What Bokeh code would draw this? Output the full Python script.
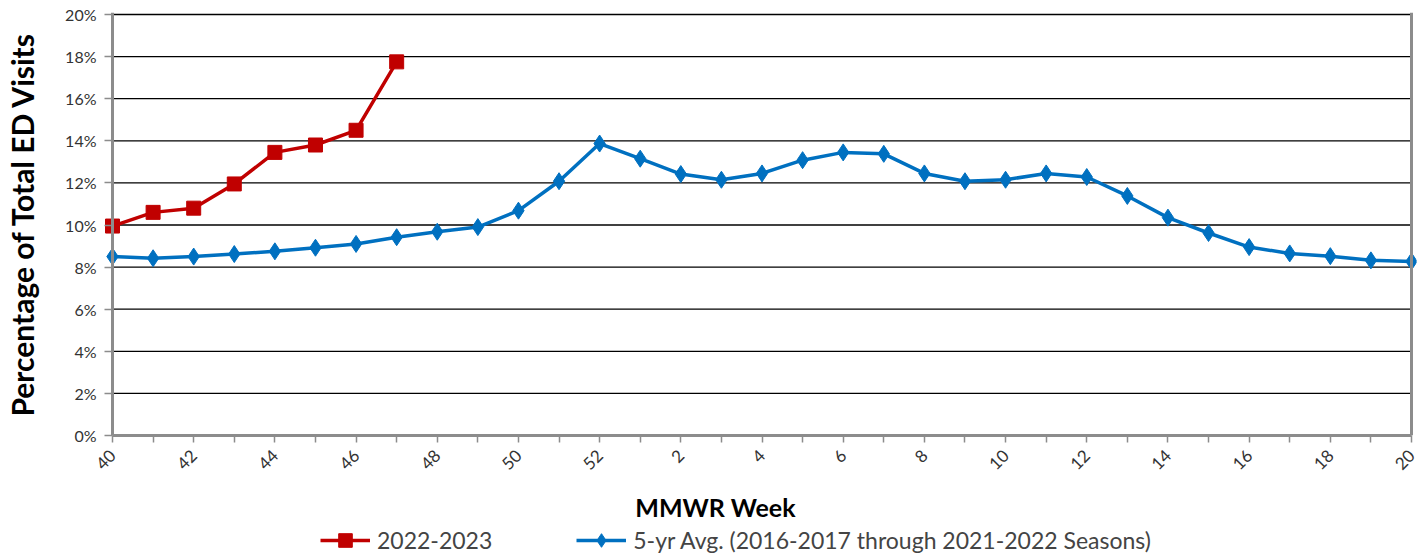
import math
from bokeh.plotting import figure
from bokeh.layouts import column
from bokeh.models import FixedTicker, Legend, LegendItem, Span, ColumnDataSource, Range1d, Label
from bokeh.embed import file_html
from bokeh.resources import INLINE

weeks = [40, 41, 42, 43, 44, 45, 46, 47, 48, 49, 50, 51, 52,
         1, 2, 3, 4, 5, 6, 7, 8, 9, 10, 11, 12, 13, 14, 15, 16, 17, 18, 19, 20]
season_2022 = [9.95, 10.6, 10.8, 11.95, 13.45, 13.8, 14.5, 17.75]
avg_5yr = [8.5, 8.42, 8.5, 8.62, 8.75, 8.92, 9.1, 9.42, 9.68, 9.9, 10.68, 12.08, 13.87,
           13.15, 12.42, 12.15, 12.45, 13.08, 13.45, 13.38, 12.45, 12.08, 12.15, 12.45,
           12.28, 11.38, 10.35, 9.62, 8.95, 8.65, 8.52, 8.32, 8.27]
y_ticks = [0, 2, 4, 6, 8, 10, 12, 14, 16, 18, 20]
series_names = ["2022-2023", "5-yr Avg. (2016-2017 through 2021-2022 Seasons)"]
x_title = "MMWR Week"
y_title = "Percentage of Total ED Visits"

FONT = "Lato"
RED = "#C00000"
BLUE = "#0070C0"
idx = list(range(len(weeks)))
n = len(weeks) - 1

W, H1, H2 = 1420, 483, 74
BL, BR, BT, BB = 104, 4, 12, 48
frame_w = W - BL - BR
frame_h = H1 - BT - BB
pad_l_px, pad_r_px, pad_t_px = 8, 5, 2
px_per_x = (frame_w - pad_l_px - pad_r_px) / n
px_per_y = (frame_h - pad_t_px) / 20.0

p = figure(width=W, height=H1, output_backend="svg", toolbar_location=None,
           x_range=Range1d(-pad_l_px / px_per_x, n + pad_r_px / px_per_x),
           y_range=Range1d(0, 20 + pad_t_px / px_per_y),
           min_border_left=BL, min_border_right=BR, min_border_top=BT, min_border_bottom=BB)
p.outline_line_color = None
p.background_fill_color = "white"
p.xgrid.grid_line_color = None
p.ygrid.grid_line_color = None

# axes
p.xaxis.ticker = FixedTicker(ticks=idx)
p.xaxis.bounds = (0, n)
p.xaxis.major_label_overrides = {i: (str(w) if i % 2 == 0 else "") for i, w in zip(idx, weeks)}
p.xaxis.major_label_orientation = math.pi / 4
p.yaxis.ticker = FixedTicker(ticks=y_ticks)
p.yaxis.major_label_overrides = {t: f"{t}%" for t in y_ticks}
p.yaxis.axis_label = y_title
for ax in (p.xaxis, p.yaxis):
    ax.axis_line_color = "#8c8c8c"
    ax.axis_line_width = 3
    ax.major_tick_line_color = "#8c8c8c"
    ax.major_tick_line_width = 1.5
    ax.minor_tick_line_color = None
    ax.major_label_text_font = FONT
    ax.major_label_text_color = "#333333"
    ax.axis_label_text_font = FONT
    ax.axis_label_text_font_style = "bold"
    ax.axis_label_text_color = "black"
p.xaxis.major_tick_out = 7
p.xaxis.major_tick_in = 0
p.yaxis.axis_line_color = None
p.yaxis.major_tick_out = 0
p.yaxis.major_tick_in = pad_l_px
p.xaxis.major_label_text_font_size = "17px"
p.yaxis.major_label_text_font_size = "16px"
p.yaxis.axis_label_text_font_size = "30px"
p.yaxis.major_label_standoff = 8
p.xaxis.major_label_standoff = 10
p.yaxis.axis_label_standoff = 22

# horizontal gridlines between the two vertical axis lines
grid_y = [t for t in y_ticks if t > 0]
p.segment(x0=[0] * len(grid_y), x1=[n] * len(grid_y), y0=grid_y, y1=grid_y,
          line_color="black", line_width=1.3)
p.add_layout(Span(location=0, dimension="height", line_color="#8c8c8c", line_width=3))
p.add_layout(Span(location=n, dimension="height", line_color="#8c8c8c", line_width=3))

src_r = ColumnDataSource(dict(x=idx[:len(season_2022)], y=season_2022))
src_b = ColumnDataSource(dict(x=idx, y=avg_5yr))

p.line("x", "y", source=src_r, line_color=RED, line_width=3.5)
p.scatter("x", "y", source=src_r, marker="square", size=14, fill_color=RED, line_color=RED)
p.line("x", "y", source=src_b, line_color=BLUE, line_width=3.5)
p.scatter("x", "y", source=src_b, marker="diamond", size=17, fill_color=BLUE, line_color=BLUE)

# strip below the chart: x-axis title and legend
p2 = figure(width=W, height=H2, output_backend="svg", toolbar_location=None,
            x_range=(0, 1), y_range=(0, 1),
            min_border_left=BL, min_border_right=BR, min_border_top=0, min_border_bottom=0)
p2.axis.visible = False
p2.grid.visible = False
p2.outline_line_color = None
# legend renderers share the data sources but fall outside this strip's ranges
lr = p2.line("x", "y", source=src_r, line_color=RED, line_width=3.5)
mr = p2.scatter("x", "y", source=src_r, marker="square", size=14, fill_color=RED, line_color=RED)
lb = p2.line("x", "y", source=src_b, line_color=BLUE, line_width=3.5)
mb = p2.scatter("x", "y", source=src_b, marker="diamond", size=17, fill_color=BLUE, line_color=BLUE)

p2.add_layout(Label(x=611, y=H2 - 23, x_units="screen", y_units="screen", text=x_title,
                    text_font=FONT, text_font_style="bold", text_font_size="25px",
                    text_align="center", text_baseline="middle", text_color="black"))

legend = Legend(items=[LegendItem(label=series_names[0], renderers=[lr, mr]),
                       LegendItem(label=series_names[1], renderers=[lb, mb])],
                orientation="horizontal", location=(216, 0),
                label_text_font=FONT, label_text_font_size="23px",
                glyph_width=50, glyph_height=34, spacing=84, label_standoff=7,
                padding=2, margin=0,
                border_line_color=None, background_fill_alpha=0)
p2.add_layout(legend, "center")

layout = column(p, p2, spacing=0)
open("out.html", "w").write(file_html(layout, INLINE))
